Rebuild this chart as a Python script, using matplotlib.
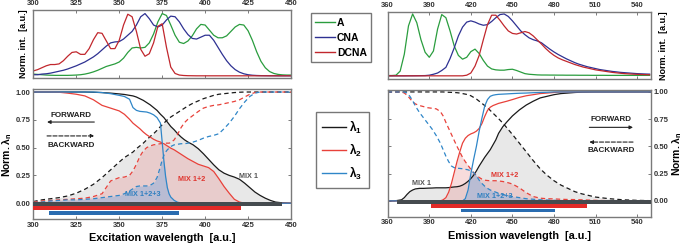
import numpy as np
import matplotlib
matplotlib.use("Agg")
import matplotlib.pyplot as plt
from matplotlib.lines import Line2D

plt.rcParams["font.family"] = ["Liberation Sans", "DejaVu Sans"]
plt.rcParams["font.weight"] = "bold"
plt.rcParams["mathtext.fontset"] = "custom"
plt.rcParams["mathtext.rm"] = "Liberation Sans"
plt.rcParams["mathtext.it"] = "Liberation Sans"
plt.rcParams["mathtext.bf"] = "Liberation Sans:bold"

# ---------------- dados: espectros (painel superior) ----------------
exc_spec_x = np.arange(300, 450.1, 2.5)
exc_A = [0.03, 0.025, 0.02, 0.015, 0.012, 0.01, 0.01, 0.01, 0.01, 0.012, 0.015, 0.02, 0.03,
         0.045, 0.065, 0.09, 0.12, 0.15, 0.17, 0.19, 0.22, 0.28, 0.37, 0.44, 0.45, 0.44, 0.45,
         0.52, 0.66, 0.85, 0.98, 0.95, 0.80, 0.64, 0.53, 0.51, 0.55, 0.63, 0.74, 0.81, 0.80,
         0.72, 0.64, 0.60, 0.60, 0.63, 0.70, 0.77, 0.81, 0.80, 0.71, 0.56, 0.38, 0.23, 0.13,
         0.07, 0.04, 0.025, 0.018, 0.015, 0.015]
exc_CNA = [0.02, 0.02, 0.03, 0.035, 0.045, 0.06, 0.075, 0.09, 0.11, 0.135, 0.16, 0.19, 0.22,
           0.26, 0.30, 0.35, 0.41, 0.47, 0.52, 0.535, 0.54, 0.58, 0.64, 0.70, 0.80, 0.93, 0.98,
           0.90, 0.80, 0.77, 0.80, 0.88, 0.94, 0.93, 0.85, 0.74, 0.65, 0.59, 0.58, 0.61, 0.64,
           0.64, 0.56, 0.45, 0.34, 0.24, 0.16, 0.10, 0.06, 0.035, 0.02, 0.012, 0.008, 0.006,
           0.005, 0.004, 0.004, 0.003, 0.003, 0.003, 0.003]
exc_DCNA = [0.08, 0.10, 0.13, 0.16, 0.18, 0.18, 0.19, 0.24, 0.31, 0.37, 0.38, 0.34, 0.34,
            0.43, 0.57, 0.68, 0.67, 0.55, 0.43, 0.43, 0.56, 0.80, 0.97, 0.93, 0.70, 0.42, 0.31,
            0.35, 0.52, 0.78, 0.82, 0.45, 0.14, 0.04, 0.015, 0.008, 0.005, 0.004, 0.003, 0.003,
            0.003, 0.003, 0.003, 0.003, 0.003, 0.003, 0.003, 0.003, 0.003, 0.003, 0.003, 0.003,
            0.003, 0.003, 0.003, 0.003, 0.003, 0.003, 0.003, 0.003, 0.003]

emi_spec_x = np.arange(360, 549.1, 3)
emi_A = [0.01, 0.01, 0.015, 0.08, 0.35, 0.80, 0.99, 0.85, 0.58, 0.38, 0.30, 0.40, 0.75, 0.98,
         0.93, 0.72, 0.48, 0.33, 0.27, 0.30, 0.39, 0.43, 0.36, 0.25, 0.16, 0.115, 0.10, 0.095,
         0.095, 0.105, 0.11, 0.09, 0.065, 0.04, 0.03, 0.025, 0.02, 0.018, 0.018, 0.017, 0.017,
         0.016, 0.016, 0.015, 0.015, 0.015, 0.014, 0.014, 0.014, 0.013, 0.013, 0.013, 0.013,
         0.012, 0.012, 0.012, 0.012, 0.012, 0.012, 0.012, 0.012, 0.012, 0.012, 0.012]
emi_CNA = [0.005, 0.005, 0.005, 0.005, 0.005, 0.006, 0.006, 0.007, 0.008, 0.009, 0.015, 0.03,
           0.05, 0.09, 0.14, 0.28, 0.45, 0.64, 0.78, 0.86, 0.88, 0.86, 0.83, 0.81, 0.82, 0.87,
           0.93, 0.98, 0.99, 0.95, 0.88, 0.80, 0.72, 0.66, 0.61, 0.58, 0.56, 0.53, 0.48, 0.43,
           0.385, 0.345, 0.31, 0.275, 0.245, 0.215, 0.19, 0.17, 0.15, 0.135, 0.12, 0.105, 0.095,
           0.085, 0.075, 0.068, 0.06, 0.055, 0.05, 0.045, 0.04, 0.037, 0.034, 0.032]
emi_DCNA = [0.005, 0.005, 0.005, 0.005, 0.005, 0.005, 0.005, 0.005, 0.005, 0.005, 0.005, 0.005,
            0.005, 0.005, 0.005, 0.005, 0.005, 0.005, 0.005, 0.015, 0.05, 0.16, 0.33, 0.58, 0.82,
            0.97, 0.97, 0.89, 0.80, 0.72, 0.68, 0.67, 0.69, 0.71, 0.69, 0.64, 0.575, 0.51, 0.44,
            0.38, 0.33, 0.29, 0.26, 0.235, 0.21, 0.185, 0.165, 0.145, 0.13, 0.115, 0.10, 0.09,
            0.08, 0.07, 0.06, 0.053, 0.046, 0.04, 0.036, 0.032, 0.029, 0.026, 0.024, 0.022]

# ---------------- dados: lambda normalizado (painel inferior) ----------------
exc_x = [300, 305, 310, 315, 320, 325, 330, 335, 340, 345, 350, 353, 356, 358, 360, 362, 364,
         366, 368, 370, 372, 374, 375, 376, 377, 378, 379, 380, 382, 384, 386, 388, 390, 393,
         396, 399, 402, 405, 408, 411, 414, 417, 420, 423, 426, 429, 432, 435, 438, 441, 445, 450]
exc_l1_fwd = [1.0, 1.0, 1.0, 1.0, 1.0, 1.0, 1.0, 0.998, 0.995, 0.99, 0.983, 0.978, 0.97, 0.965,
              0.955, 0.94, 0.925, 0.905, 0.885, 0.86, 0.835, 0.80, 0.785, 0.77, 0.75, 0.73, 0.71,
              0.69, 0.66, 0.625, 0.595, 0.57, 0.55, 0.525, 0.49, 0.445, 0.395, 0.345, 0.30, 0.27,
              0.25, 0.235, 0.215, 0.18, 0.14, 0.10, 0.07, 0.045, 0.025, 0.01, 0.003, 0.0]
exc_l2_fwd = [1.0, 1.0, 1.0, 0.998, 0.99, 0.98, 0.965, 0.93, 0.88, 0.855, 0.83, 0.80, 0.755,
              0.72, 0.695, 0.67, 0.64, 0.615, 0.595, 0.575, 0.56, 0.55, 0.54, 0.535, 0.525, 0.515,
              0.505, 0.495, 0.48, 0.46, 0.44, 0.42, 0.40, 0.375, 0.35, 0.335, 0.32, 0.285, 0.22,
              0.15, 0.09, 0.035, 0.01, 0.0, 0.0, 0.0, 0.0, 0.0, 0.0, 0.0, 0.0, 0.0]
exc_l3_fwd = [1.0, 1.0, 1.0, 1.0, 1.0, 1.0, 1.0, 1.0, 0.995, 0.985, 0.97, 0.96, 0.935, 0.86,
              0.835, 0.826, 0.823, 0.82, 0.81, 0.795, 0.77, 0.72, 0.55, 0.38, 0.24, 0.14, 0.085,
              0.055, 0.025, 0.008, 0.003, 0.0, 0.0, 0.0, 0.0, 0.0, 0.0, 0.0, 0.0, 0.0, 0.0, 0.0,
              0.0, 0.0, 0.0, 0.0, 0.0, 0.0, 0.0, 0.0, 0.0, 0.0]
exc_l1_bwd = [0.015, 0.03, 0.04, 0.05, 0.065, 0.09, 0.125, 0.17, 0.23, 0.30, 0.37, 0.41, 0.44,
              0.46, 0.49, 0.515, 0.54, 0.57, 0.60, 0.625, 0.655, 0.69, 0.705, 0.72, 0.735, 0.75,
              0.765, 0.775, 0.795, 0.815, 0.835, 0.855, 0.875, 0.90, 0.92, 0.94, 0.955, 0.97,
              0.98, 0.985, 0.99, 0.995, 0.998, 1.0, 1.0, 1.0, 1.0, 1.0, 1.0, 1.0, 1.0, 1.0]
exc_l2_bwd = [0.01, 0.02, 0.025, 0.03, 0.035, 0.04, 0.045, 0.06, 0.085, 0.20, 0.23, 0.235, 0.25,
              0.29, 0.35, 0.42, 0.47, 0.50, 0.515, 0.525, 0.53, 0.535, 0.537, 0.54, 0.54, 0.54,
              0.54, 0.545, 0.57, 0.62, 0.68, 0.725, 0.755, 0.79, 0.825, 0.855, 0.87, 0.88, 0.885,
              0.895, 0.905, 0.915, 0.93, 0.955, 0.98, 0.995, 1.0, 1.0, 1.0, 1.0, 1.0, 1.0]
exc_l3_bwd = [0.005, 0.01, 0.02, 0.025, 0.03, 0.03, 0.035, 0.04, 0.05, 0.06, 0.07, 0.085, 0.11,
              0.13, 0.15, 0.155, 0.155, 0.155, 0.16, 0.18, 0.23, 0.33, 0.39, 0.43, 0.46, 0.48,
              0.495, 0.51, 0.525, 0.53, 0.535, 0.535, 0.54, 0.55, 0.565, 0.585, 0.60, 0.61, 0.625,
              0.67, 0.72, 0.78, 0.85, 0.91, 0.96, 0.99, 1.0, 1.0, 1.0, 1.0, 1.0, 1.0]

emi_x = [360, 365, 370, 372, 374, 376, 378, 380, 383, 386, 389, 392, 395, 398, 400, 402, 404,
         406, 408, 410, 412, 414, 416, 418, 420, 422, 424, 426, 428, 430, 432, 434, 436, 438,
         440, 443, 446, 450, 455, 460, 465, 470, 475, 480, 485, 490, 495, 500, 510, 520, 530,
         540, 550]
emi_l1_fwd = [0.0, 0.0, 0.01, 0.03, 0.06, 0.085, 0.10, 0.11, 0.115, 0.115, 0.117, 0.118, 0.12,
              0.12, 0.12, 0.12, 0.122, 0.125, 0.128, 0.13, 0.135, 0.145, 0.16, 0.18, 0.205, 0.235,
              0.275, 0.32, 0.36, 0.40, 0.435, 0.47, 0.515, 0.56, 0.62, 0.68, 0.725, 0.78, 0.835,
              0.88, 0.915, 0.945, 0.96, 0.975, 0.985, 0.99, 0.995, 0.998, 1.0, 1.0, 1.0, 1.0, 1.0]
emi_l2_fwd = [0.0, 0.0, 0.0, 0.0, 0.0, 0.0, 0.0, 0.0, 0.0, 0.0, 0.0, 0.0, 0.0, 0.0, 0.01, 0.03,
              0.08, 0.16, 0.26, 0.36, 0.45, 0.53, 0.575, 0.60, 0.615, 0.625, 0.64, 0.665, 0.71,
              0.775, 0.83, 0.86, 0.875, 0.885, 0.895, 0.905, 0.915, 0.93, 0.95, 0.965, 0.975,
              0.985, 0.99, 0.995, 1.0, 1.0, 1.0, 1.0, 1.0, 1.0, 1.0, 1.0, 1.0]
emi_l3_fwd = [0.0, 0.0, 0.0, 0.0, 0.0, 0.0, 0.0, 0.0, 0.0, 0.0, 0.0, 0.0, 0.0, 0.0, 0.0, 0.0,
              0.0, 0.0, 0.0, 0.0, 0.0, 0.0, 0.02, 0.10, 0.25, 0.38, 0.50, 0.64, 0.76, 0.87, 0.93,
              0.96, 0.97, 0.975, 0.978, 0.98, 0.982, 0.985, 0.988, 0.99, 0.993, 0.995, 0.997,
              1.0, 1.0, 1.0, 1.0, 1.0, 1.0, 1.0, 1.0, 1.0, 1.0]
emi_l1_bwd = [1.0, 1.0, 1.0, 1.0, 1.0, 1.0, 1.0, 1.0, 1.0, 1.0, 1.0, 1.0, 1.0, 1.0, 1.0, 0.998,
              0.997, 0.996, 0.995, 0.993, 0.99, 0.985, 0.98, 0.975, 0.965, 0.95, 0.935, 0.915,
              0.895, 0.875, 0.855, 0.83, 0.805, 0.78, 0.755, 0.715, 0.67, 0.61, 0.53, 0.45, 0.37,
              0.295, 0.235, 0.185, 0.145, 0.115, 0.085, 0.065, 0.035, 0.02, 0.01, 0.005, 0.002]
emi_l2_bwd = [1.0, 1.0, 1.0, 0.99, 0.97, 0.94, 0.91, 0.89, 0.875, 0.865, 0.855, 0.85, 0.845,
              0.82, 0.78, 0.72, 0.665, 0.61, 0.555, 0.50, 0.45, 0.40, 0.36, 0.325, 0.29, 0.26,
              0.235, 0.215, 0.20, 0.19, 0.187, 0.185, 0.185, 0.185, 0.183, 0.178, 0.17, 0.155,
              0.12, 0.075, 0.04, 0.025, 0.02, 0.018, 0.015, 0.013, 0.012, 0.01, 0.005, 0.002,
              0.0, 0.0, 0.0]
emi_l3_bwd = [1.0, 1.0, 1.0, 1.0, 0.99, 0.96, 0.92, 0.87, 0.81, 0.76, 0.71, 0.66, 0.60, 0.53,
              0.47, 0.41, 0.36, 0.32, 0.305, 0.30, 0.298, 0.295, 0.29, 0.285, 0.275, 0.26, 0.23,
              0.19, 0.16, 0.135, 0.115, 0.10, 0.09, 0.08, 0.07, 0.06, 0.05, 0.04, 0.03, 0.02,
              0.015, 0.01, 0.008, 0.005, 0.003, 0.002, 0.001, 0.0, 0.0, 0.0, 0.0, 0.0, 0.0]

# faixas (inicio, fim) de cada lambda
exc_faixas = [(300, 445), (300, 421), (309, 385)]
emi_faixas = [(367, 550), (391, 504), (413, 480.5)]

rotulos_espectro = ["A", "CNA", "DCNA"]
rotulos_lambda = [r"$\lambda_1$", r"$\lambda_2$", r"$\lambda_3$"]

# ---------------- estilos ----------------
cores_espectro = ["#2a9d3e", "#2e3192", "#c1272d"]
cores_lambda = ["#1a1a1a", "#e8413a", "#2f86c8"]
cores_faixa = ["#454b4f", "#e32a27", "#2a6cb0"]
cores_fill = [(0.80, 0.80, 0.80, 0.45), (0.92, 0.55, 0.55, 0.30), (0.45, 0.65, 0.88, 0.40)]
faixa_y = [(-0.025, 0.01), (-0.063, -0.028), (-0.105, -0.07)]
cor_eixo = "#7a7a7a"
fs_tick = 5.5


def estilo_eixo(ax):
    for s in ax.spines.values():
        s.set_color(cor_eixo)
        s.set_linewidth(1.0)
    ax.tick_params(direction="in", length=2.5, width=0.7, color=cor_eixo,
                   labelsize=fs_tick, labelcolor="#333333", pad=2)


def painel_espectro(ax, x, series, xlim, ylim, xticks, lado):
    for y, c in zip(series, cores_espectro):
        ax.plot(x, y, color=c, lw=0.9)
    ax.set_xlim(*xlim)
    ax.set_ylim(*ylim)
    ax.set_xticks(xticks)
    ax.set_yticks([])
    ax.tick_params(axis="x", top=True, bottom=True, labeltop=True, labelbottom=False)
    estilo_eixo(ax)
    if lado == "right":
        ax.yaxis.set_label_position("right")
        ax.set_ylabel("Norm. int.  [a.u.]", fontsize=6.5, fontweight="bold", labelpad=6)
    else:
        ax.set_ylabel("Norm. int.  [a.u.]", fontsize=6.5, fontweight="bold", labelpad=4)


def painel_lambda(ax, x, fwd, bwd, faixas, xlim, ylim, xticks, xlabel, lado):
    x = np.array(x)
    for f, b, c in zip(fwd, bwd, cores_fill):
        ax.fill_between(x, 0, np.minimum(f, b), color=c, lw=0)
    for f, b, c in zip(fwd, bwd, cores_lambda):
        ax.plot(x, f, color=c, lw=0.9)
        ax.plot(x, b, color=c, lw=0.9, ls=(0, (3.5, 2.5)))
    for (ini, fim), (y0, y1), c in zip(faixas, faixa_y, cores_faixa):
        ax.barh((y0 + y1) / 2, fim - ini, left=ini, height=y1 - y0, color=c, lw=0, zorder=3)
    ax.set_xlim(*xlim)
    ax.set_ylim(*ylim)
    ax.set_xticks(xticks)
    ax.set_yticks([0, 0.25, 0.5, 0.75, 1.0])
    ax.set_yticklabels(["0.00", "0.25", "0.50", "0.75", "1.00"])
    ax.tick_params(axis="y", left=True, right=True)
    ax.tick_params(axis="x", top=False, bottom=True)
    estilo_eixo(ax)
    ax.set_xlabel(xlabel, fontsize=7.8, fontweight="bold", labelpad=3)
    if lado == "right":
        ax.yaxis.tick_right()
        ax.tick_params(axis="y", left=True, right=True)
        ax.yaxis.set_label_position("right")
    ax.set_ylabel(r"Norm. λ$_\mathbf{n}$", fontsize=7.5, fontweight="bold", labelpad=1)


def setas(ax, x_txt, y_fwd_txt, y_fwd, y_bwd, y_bwd_txt, xa, xb, fwd_esq):
    kw = dict(ha="center", va="center", fontsize=5.8, fontweight="bold", color="#222222")
    ax.text(x_txt, y_fwd_txt, "FORWARD", **kw)
    ax.text(x_txt, y_bwd_txt, "BACKWARD", **kw)
    if fwd_esq:
        s1, e1, s2, e2 = xb, xa, xa, xb
    else:
        s1, e1, s2, e2 = xa, xb, xb, xa
    ax.annotate("", xy=(e1, y_fwd), xytext=(s1, y_fwd),
                arrowprops=dict(arrowstyle="-|>", lw=0.8, color="#222222",
                                mutation_scale=5, shrinkA=0, shrinkB=0))
    ax.annotate("", xy=(e2, y_bwd), xytext=(s2, y_bwd),
                arrowprops=dict(arrowstyle="-|>", lw=0.8, color="#222222", ls="--",
                                mutation_scale=5, shrinkA=0, shrinkB=0))


fig = plt.figure(figsize=(6.84, 2.47), dpi=100)

ax1 = fig.add_axes([0.0487, 0.683, 0.3768, 0.2765])
ax2 = fig.add_axes([0.0487, 0.1121, 0.3768, 0.5275])
ax3 = fig.add_axes([0.5668, 0.679, 0.385, 0.2737])
ax4 = fig.add_axes([0.5668, 0.1227, 0.385, 0.513])

painel_espectro(ax1, exc_spec_x, [exc_A, exc_CNA, exc_DCNA], (300, 450), (-0.036, 1.036),
                [300, 325, 350, 375, 400, 425, 450], "left")
painel_espectro(ax3, emi_spec_x, [emi_A, emi_CNA, emi_DCNA], (360, 550), (-0.05, 1.026),
                [360, 390, 420, 450, 480, 510, 540], "right")

painel_lambda(ax2, exc_x, [exc_l1_fwd, exc_l2_fwd, exc_l3_fwd],
              [exc_l1_bwd, exc_l2_bwd, exc_l3_bwd], exc_faixas, (300, 450), (-0.145, 1.027),
              [300, 325, 350, 375, 400, 425, 450], "Excitation wavelength  [a.u.]", "left")
painel_lambda(ax4, emi_x, [emi_l1_fwd, emi_l2_fwd, emi_l3_fwd],
              [emi_l1_bwd, emi_l2_bwd, emi_l3_bwd], emi_faixas, (360, 550), (-0.145, 1.018),
              [360, 390, 420, 450, 480, 510, 540], "Emission wavelength  [a.u.]", "right")

# rótulos MIX
mix_kw = dict(ha="center", va="center", fontsize=5.2, fontweight="bold")
ax2.text(425, 0.236, "MIX 1", color="#555555", **mix_kw)
ax2.text(392.4, 0.21, "MIX 1+2", color="#e0342d", **mix_kw)
ax2.text(363.9, 0.075, "MIX 1+2+3", color="#2f7fc0", **mix_kw)
ax4.text(384.7, 0.16, "MIX 1", color="#555555", **mix_kw)
ax4.text(444.5, 0.235, "MIX 1+2", color="#e0342d", **mix_kw)
ax4.text(437.3, 0.043, "MIX 1+2+3", color="#2f7fc0", **mix_kw)

setas(ax2, 322, 0.79, 0.73, 0.605, 0.52, 308, 335.5, True)
setas(ax4, 521, 0.75, 0.675, 0.54, 0.465, 505.5, 537, False)

# legendas
h1 = [Line2D([], [], color=c, lw=1.0) for c in cores_espectro]
fig.legend(h1, rotulos_espectro, loc="upper left", bbox_to_anchor=(0.4547, 0.946),
           frameon=True, fancybox=False, edgecolor="#555555",
           handlelength=1.9, handletextpad=0.2, labelspacing=0.5, borderpad=0.4,
           borderaxespad=0, prop={"weight": "bold", "size": 7.5})
h2 = [Line2D([], [], color=c, lw=1.0) for c in cores_lambda]
fig.legend(h2, rotulos_lambda, loc="upper left", bbox_to_anchor=(0.4615, 0.5466),
           frameon=True, fancybox=False, edgecolor="#555555",
           handlelength=2.0, handletextpad=0.3, labelspacing=0.5, borderpad=0.55,
           borderaxespad=0, prop={"size": 8.5})

fig.savefig("out.png", dpi=100)
